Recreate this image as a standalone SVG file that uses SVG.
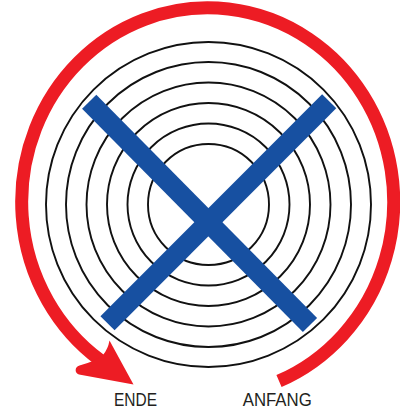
<svg xmlns="http://www.w3.org/2000/svg" width="400" height="409" viewBox="0 0 400 409">
<style>
.ring{fill:none;stroke:#111;stroke-width:1.9}
.bar{stroke:#1750A1;stroke-width:20;stroke-linecap:butt}
.red{fill:none;stroke:#ED1C24;stroke-width:13;stroke-linecap:butt}
.lbl{font-family:"Liberation Sans",Arial,sans-serif;font-size:18.5px;fill:#231F20}
</style>
<rect width="400" height="409" fill="#fff"/>
<g id="rings">
<circle class="ring" cx="208.5" cy="204.5" r="60.5"/>
<circle class="ring" cx="208.5" cy="204.5" r="81"/>
<circle class="ring" cx="208.5" cy="204.5" r="101.5"/>
<circle class="ring" cx="208.5" cy="204.5" r="122"/>
<circle class="ring" cx="208.5" cy="204.5" r="142.5"/>
<circle class="ring" cx="208.5" cy="204.5" r="162.5"/>
</g>
<g id="cross">
<line class="bar" x1="89.2" y1="101.7" x2="310" y2="325"/>
<line class="bar" x1="329.2" y1="101.3" x2="107.5" y2="323.3"/>
</g>
<g id="connectors">
<path class="red" d="M279 381 A186 194 0 1 0 100 360"/>
<path fill="#ED1C24" d="M109.5 340.5 L133.5 384.5 L79 374.5 C74.5 373 74.5 367 79.5 365.5 Q96 361 103 355 Q108 349 109.5 340.5 Z"/>
</g>
<g id="ende"><text class="lbl" x="114" y="405.5" textLength="43" lengthAdjust="spacingAndGlyphs">ENDE</text></g>
<g id="anfang"><text class="lbl" x="242.7" y="405.5" textLength="69" lengthAdjust="spacingAndGlyphs">ANFANG</text></g>
</svg>
